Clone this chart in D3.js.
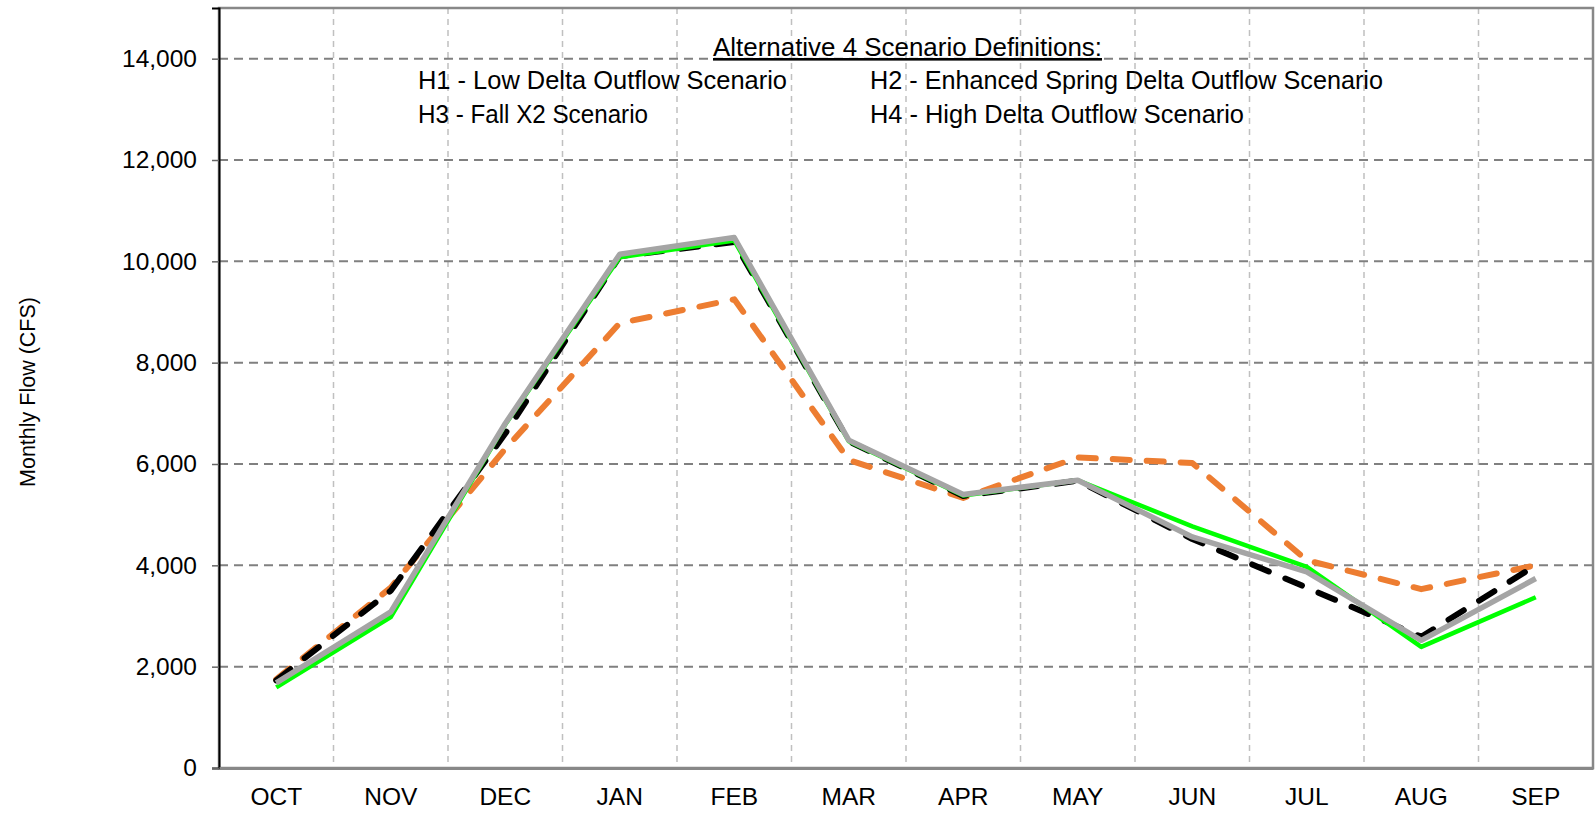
<!DOCTYPE html>
<html>
<head>
<meta charset="utf-8">
<script src="https://cdn.jsdelivr.net/npm/d3@7/dist/d3.min.js"></script>
<style>
  body { margin: 0; background: #fff; }
  svg text { font-family: Arial, "Liberation Sans", sans-serif; }
</style>
</head>
<body>
<svg id="chart"></svg>
<script>
// month categories
const months = ["OCT", "NOV", "DEC", "JAN", "FEB", "MAR", "APR", "MAY", "JUN", "JUL", "AUG", "SEP"];
const yTicks = [0, 2000, 4000, 6000, 8000, 10000, 12000, 14000];

// series values (cfs)
const orangeFlow = [1750, 3560, 6300, 8780, 9250, 6080, 5330, 6130, 6020, 4100, 3530, 4000];
const blackFlow  = [1730, 3500, 6600, 10100, 10380, 6450, 5370, 5670, 4520, 3560, 2590, 4000];
const greenFlow  = [1590, 2980, 6780, 10080, 10410, 6450, 5380, 5680, 4770, 3970, 2390, 3370];
const grayFlow   = [1680, 3080, 6800, 10140, 10470, 6470, 5400, 5680, 4560, 3870, 2520, 3740];

const legendTitle = "Alternative 4 Scenario Definitions:";
const legendLeft = ["H1 - Low Delta Outflow Scenario", "H3 - Fall X2 Scenario"];
const legendRight = ["H2 - Enhanced Spring Delta Outflow Scenario", "H4 - High Delta Outflow Scenario"];

const W = 1596, H = 817;
const m = {left: 219, right: 3, top: 8, bottom: 49};
const iw = W - m.left - m.right, ih = H - m.top - m.bottom;

let svg = d3.select("#chart").attr("width", W).attr("height", H);
let g = svg.append("g").attr("transform", `translate(${m.left},${m.top})`);

let x = d3.scaleBand().domain(months).range([0, iw]);
let y = d3.scaleLinear().domain([0, 15000]).range([ih, 0]);

// vertical grid at category edges
g.selectAll(".vgrid")
  .data(months.slice(1))
  .enter()
  .append("line")
    .attr("x1", d => x(d)).attr("x2", d => x(d))
    .attr("y1", 0).attr("y2", ih)
    .attr("stroke", "#c0c0c0")
    .attr("stroke-width", 1.5)
    .attr("stroke-dasharray", "6,5");

// horizontal grid
g.selectAll(".hgrid")
  .data(yTicks.slice(1))
  .enter()
  .append("line")
    .attr("x1", 0).attr("x2", iw)
    .attr("y1", d => y(d)).attr("y2", d => y(d))
    .attr("stroke", "#808080")
    .attr("stroke-width", 2)
    .attr("stroke-dasharray", "9,6");

// frame
g.append("rect")
  .attr("x", 0).attr("y", 0).attr("width", iw).attr("height", ih)
  .attr("fill", "none").attr("stroke", "#888").attr("stroke-width", 2.5);

// y axis
let yAxis = g.append("g")
  .call(d3.axisLeft(y).tickValues(yTicks).tickSize(7).tickPadding(15).tickFormat(d3.format(",")));
yAxis.select(".domain").attr("stroke", "#000").attr("stroke-width", 2);
yAxis.selectAll(".tick line").attr("stroke", "#666").attr("stroke-width", 1.5);
yAxis.selectAll("text").attr("font-size", "24.5px").attr("fill", "#000")
  .attr("font-family", "Arial, 'Liberation Sans', sans-serif");

// x axis
let xAxis = g.append("g")
  .attr("transform", `translate(0,${ih})`)
  .call(d3.axisBottom(x).tickSize(0).tickPadding(20));
xAxis.select(".domain").attr("stroke", "#888").attr("stroke-width", 3);
xAxis.selectAll("text").attr("font-size", "24.5px").attr("fill", "#000")
  .attr("font-family", "Arial, 'Liberation Sans', sans-serif");

// axis title
svg.append("text")
  .attr("transform", "translate(35,392) rotate(-90)")
  .attr("text-anchor", "middle")
  .attr("font-size", "21.5px")
  .attr("fill", "#000")
  .text("Monthly Flow (CFS)");

// lines
let line = d3.line()
  .x((d, i) => x(months[i]) + x.bandwidth() / 2)
  .y(d => y(d));

let series = [
  {vals: orangeFlow, color: "#ED7D31", width: 6, dash: "17,17"},
  {vals: blackFlow,  color: "#000000", width: 6, dash: "18,18"},
  {vals: greenFlow,  color: "#00FF00", width: 4.5, dash: null},
  {vals: grayFlow,   color: "#A5A5A5", width: 5.5, dash: null}
];

series.forEach(s => {
  g.append("path")
    .datum(s.vals)
    .attr("d", line)
    .attr("fill", "none")
    .attr("stroke", s.color)
    .attr("stroke-width", s.width)
    .attr("stroke-linejoin", "round")
    .attr("stroke-linecap", s.dash ? "round" : "butt")
    .attr("stroke-dasharray", s.dash);
});

// scenario definitions box
const lf = "Carlito, Calibri, 'Liberation Sans Narrow', 'Open Sans', sans-serif";
svg.append("text")
  .attr("x", 713).attr("y", 56)
  .attr("font-size", "26px")
  .attr("font-family", lf)
  .attr("text-decoration", "underline")
  .attr("textLength", 389)
  .attr("lengthAdjust", "spacingAndGlyphs")
  .text(legendTitle);

const leftLens = [369, 230];
const rightLens = [513, 374];
legendLeft.forEach((t, i) => {
  svg.append("text")
    .attr("x", 418).attr("y", 89 + i * 34)
    .attr("font-size", "26px")
    .attr("font-family", lf)
    .attr("textLength", leftLens[i])
    .attr("lengthAdjust", "spacingAndGlyphs")
    .text(t);
});
legendRight.forEach((t, i) => {
  svg.append("text")
    .attr("x", 870).attr("y", 89 + i * 34)
    .attr("font-size", "26px")
    .attr("font-family", lf)
    .attr("textLength", rightLens[i])
    .attr("lengthAdjust", "spacingAndGlyphs")
    .text(t);
});
</script>
</body>
</html>
